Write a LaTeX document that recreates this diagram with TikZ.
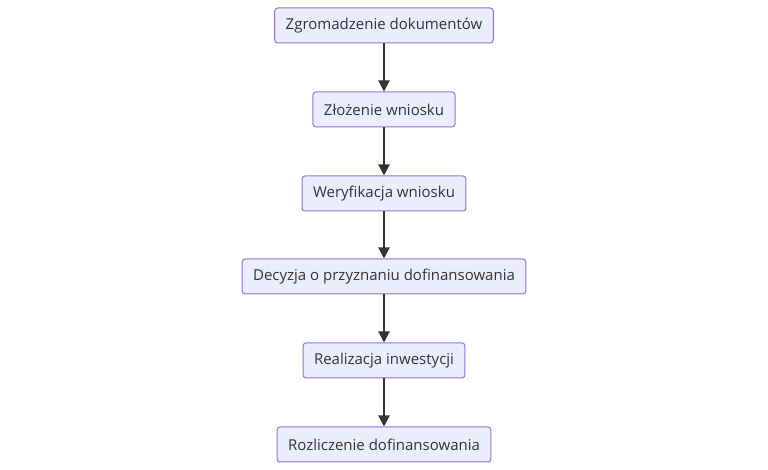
\documentclass[tikz,border=0pt]{standalone}
\usepackage{fontspec}
\setmainfont{Open Sans}
\usetikzlibrary{arrows.meta}
\definecolor{boxfill}{HTML}{ECECFF}
\definecolor{boxline}{HTML}{9370DB}
\definecolor{ink}{HTML}{333333}
\tikzset{
  flowbox/.style={draw=boxline, fill=boxfill, rounded corners=3pt, line width=1pt,
    minimum height=35pt, inner xsep=11pt, text=ink, font=\fontsize{15pt}{17pt}\selectfont},
  flowarrow/.style={draw=ink, line width=2pt, -{Triangle[length=11pt,width=11pt]}}
}
\begin{document}
\begin{tikzpicture}[x=1pt,y=1pt]
\useasboundingbox (0,0) rectangle (768,470);
\node[flowbox] (a) at (384,444.5) {Zgromadzenie dokumentów};
\node[flowbox] (b) at (384,360.5) {Złożenie wniosku};
\node[flowbox] (c) at (384,276.5) {Weryfikacja wniosku};
\node[flowbox] (d) at (384,193.5) {Decyzja o przyznaniu dofinansowania};
\node[flowbox] (e) at (384,109.5) {Realizacja inwestycji};
\node[flowbox] (f) at (384,25.5) {Rozliczenie dofinansowania};
\draw[flowarrow] (a) -- (b);
\draw[flowarrow] (b) -- (c);
\draw[flowarrow] (c) -- (d);
\draw[flowarrow] (d) -- (e);
\draw[flowarrow] (e) -- (f);
\end{tikzpicture}
\end{document}
